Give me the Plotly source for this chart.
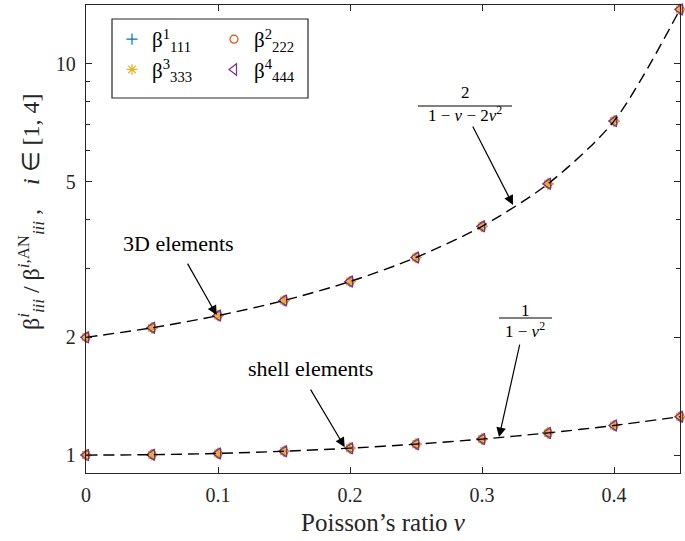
import math
import plotly.graph_objects as go

# ---- data ----
nu = [0, 0.05, 0.1, 0.15, 0.2, 0.25, 0.3, 0.35, 0.4, 0.45]
ratio_3d = [2.0, 2.116, 2.273, 2.484, 2.778, 3.2, 3.846, 4.938, 7.143, 13.79]
ratio_shell = [1.0, 1.0025, 1.0101, 1.023, 1.0417, 1.0667, 1.0989, 1.1396, 1.1905, 1.2539]
series_names = ["β<sup>1</sup><sub>111</sub>", "β<sup>2</sup><sub>222</sub>",
                "β<sup>3</sup><sub>333</sub>", "β<sup>4</sup><sub>444</sub>"]
series_colors = ["#0072BD", "#D95319", "#EDB120", "#7E2F8E"]
series_symbols = ["cross-thin-open", "circle-open", "asterisk-open", "triangle-left-open"]
series_sizes = [8, 8, 9, 10]
x_ticks = [0, 0.1, 0.2, 0.3, 0.4]
y_ticks = [1, 2, 5, 10]
y_minor = [3, 4, 6, 7, 8, 9]

FONT = "Liberation Serif"
W, H = 685, 541
L, R, T, B = 86, 5, 5, 68
PW, PH = W - L - R, H - T - B


def px(xp):
    return (xp - L) / PW


def py(yp):
    return (H - B - yp) / PH


fig = go.Figure()

legend_ids = ["legend", "legend2", "legend", "legend2"]
for i in range(4):
    xs = nu + nu
    ys = ratio_3d + ratio_shell
    fig.add_trace(go.Scatter(
        x=xs, y=ys, mode="markers", name=series_names[i],
        legend=legend_ids[i], cliponaxis=False,
        marker=dict(symbol=series_symbols[i], size=series_sizes[i],
                    color=series_colors[i], line=dict(width=1.2, color=series_colors[i])),
    ))

for ys in (ratio_3d, ratio_shell):
    fig.add_trace(go.Scatter(
        x=nu, y=ys, mode="lines", showlegend=False, cliponaxis=False,
        line=dict(color="black", width=1.4, dash="11px,6px", shape="spline", smoothing=0.8),
    ))

axis_common = dict(
    showline=True, linecolor="#262626", linewidth=1.3, mirror="ticks",
    ticks="inside", ticklen=6, tickwidth=1, tickcolor="#262626",
    showgrid=False, zeroline=False, automargin=False,
    tickfont=dict(family=FONT, size=20, color="#262626"),
)

fig.update_xaxes(range=[0, 0.45], tickvals=x_ticks, ticktext=["0", "0.1", "0.2", "0.3", "0.4"],
                 ticklabelstandoff=4,
                 title=dict(text="Poisson’s ratio <i>ν</i>", font=dict(family=FONT, size=25, color="#262626"),
                            standoff=8),
                 **axis_common)
fig.update_yaxes(type="log", range=[math.log10(0.9), math.log10(14.15)],
                 tickvals=y_ticks, ticktext=[str(v) for v in y_ticks], ticklabelstandoff=5,
                 minor=dict(tickvals=y_minor, ticks="inside", ticklen=4, tickcolor="#262626"),
                 **axis_common)


def text_ann(x, y, text, size, angle=0):
    return dict(xref="paper", yref="paper", x=px(x), y=py(y), text=text, showarrow=False,
                textangle=angle, xanchor="center", yanchor="middle",
                font=dict(family=FONT, size=size, color="black"))


annotations = [
    text_ann(31, 212, "β<sup><i>i</i></sup><sub><i>iii</i></sub> / β<sup><i>i</i>,AN</sup><sub><i>iii</i></sub>"
                      " ,    <i>i</i> ∈ [1, 4]", 24, -90),
    text_ann(178, 243, "3D elements", 22),
    text_ann(310, 368, "shell elements", 22),
    text_ann(465, 92, "2", 17),
    text_ann(465, 114, "1 − <i>ν</i> − 2<i>ν</i><sup>2</sup>", 17),
    text_ann(525, 310, "1", 17),
    text_ann(525, 330, "1 − <i>ν</i><sup>2</sup>", 17),
]
annotations[0]["font"]["color"] = "#262626"
# arrows (head position in data coords, log10 for y)
arrows = [
    (0.099, 2.28, -30, -53),
    (0.196, 1.048, -35, -59),
    (0.3235, 4.36, -41, -80),
    (0.3129, 1.112, 21, -94),
]
for hx, hy, ax, ay in arrows:
    annotations.append(dict(x=hx, y=math.log10(hy), xref="x", yref="y", text="",
                            showarrow=True, ax=ax, ay=ay, arrowhead=2, arrowsize=1.6,
                            arrowwidth=1.2, arrowcolor="black", standoff=0, startstandoff=0))

shapes = [
    dict(type="line", xref="paper", yref="paper", x0=px(418), x1=px(512), y0=py(106), y1=py(106),
         line=dict(color="black", width=1)),
    dict(type="line", xref="paper", yref="paper", x0=px(499), x1=px(552), y0=py(318), y1=py(318),
         line=dict(color="black", width=1)),
    dict(type="rect", xref="paper", yref="paper", x0=px(112), x1=px(308), y0=py(98), y1=py(19),
         line=dict(color="#262626", width=1.2), fillcolor="rgba(0,0,0,0)"),
]

legend_common = dict(bgcolor="rgba(0,0,0,0)", borderwidth=0, yanchor="top", xanchor="left",
                     font=dict(family=FONT, size=21, color="black"), tracegroupgap=0,
                     itemwidth=30)
fig.update_layout(
    width=W, height=H,
    margin=dict(l=L, r=R, t=T, b=B),
    paper_bgcolor="white", plot_bgcolor="white",
    annotations=annotations, shapes=shapes,
    legend=dict(x=px(112), y=py(19), **legend_common),
    legend2=dict(x=px(214), y=py(19), **legend_common),
    showlegend=True,
)

fig.write_html("out.html", config={"displayModeBar": False},
               post_script="document.body.style.margin='0';")
